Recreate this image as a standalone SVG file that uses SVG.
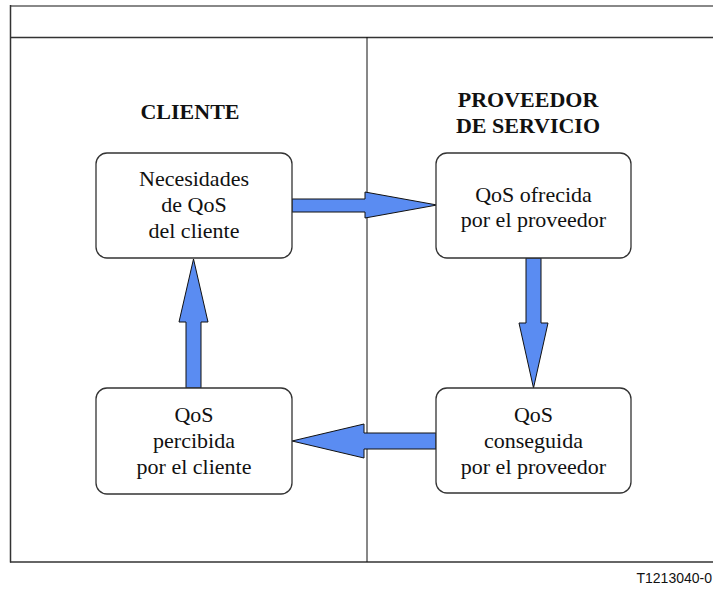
<svg xmlns="http://www.w3.org/2000/svg" width="713" height="590" viewBox="0 0 713 590">
<style>
.frame{fill:none;stroke:#333;stroke-width:1.5}
.box{fill:#fff;stroke:#333;stroke-width:1.3}
.lbl{font-size:22px;fill:#111;text-anchor:middle}
.hdr{font-size:22px;font-weight:bold;fill:#111;text-anchor:middle}
.arr{fill:#5a8cf2;stroke:#111;stroke-width:1;stroke-linejoin:miter}
</style>
<rect width="713" height="590" fill="#fff"/>
<g id="frame">
<line x1="10" y1="6" x2="713" y2="6" stroke="#888" stroke-width="2"/>
<line class="frame" x1="10.5" y1="5" x2="10.5" y2="562.5"/>
<line class="frame" x1="10" y1="37.5" x2="713" y2="37.5"/>
<line class="frame" x1="10" y1="562" x2="713" y2="562"/>
<line x1="367" y1="37" x2="367" y2="562" stroke="#111" stroke-width="1"/>
</g>
<g id="headers" font-family="Liberation Serif, serif">
<text class="hdr" x="190" y="119">CLIENTE</text>
<text class="hdr" x="528" y="107">PROVEEDOR</text>
<text class="hdr" x="528" y="133">DE SERVICIO</text>
</g>
<g id="connectors">
<polygon class="arr" points="292,199 365,199 365,192 437,205 365,218 365,212 292,212"/>
<polygon class="arr" points="526,258 541,258 541,323 548,323 533.5,388 519,323 526,323"/>
<polygon class="arr" points="436,433 364,433 364,424 292,441 364,458 364,449 436,449"/>
<polygon class="arr" points="186,388 186,322 179,322 193.5,259 208,322 201,322 201,388"/>
</g>
<g id="n1" font-family="Liberation Serif, serif">
<rect class="box" x="96" y="153" width="196" height="105" rx="11"/>
<text class="lbl" x="194" y="186">Necesidades</text>
<text class="lbl" x="194" y="212">de QoS</text>
<text class="lbl" x="194" y="238">del cliente</text>
</g>
<g id="n2" font-family="Liberation Serif, serif">
<rect class="box" x="436" y="153" width="195" height="105" rx="11"/>
<text class="lbl" x="533.5" y="202">QoS ofrecida</text>
<text class="lbl" x="533.5" y="227">por el proveedor</text>
</g>
<g id="n3" font-family="Liberation Serif, serif">
<rect class="box" x="436" y="388" width="195" height="105" rx="11"/>
<text class="lbl" x="533.5" y="422">QoS</text>
<text class="lbl" x="533.5" y="448">conseguida</text>
<text class="lbl" x="533.5" y="474">por el proveedor</text>
</g>
<g id="n4" font-family="Liberation Serif, serif">
<rect class="box" x="96" y="388" width="196" height="106" rx="11"/>
<text class="lbl" x="194" y="422">QoS</text>
<text class="lbl" x="194" y="448">percibida</text>
<text class="lbl" x="194" y="474">por el cliente</text>
</g>
<text x="712" y="583" font-family="Liberation Sans, Arial, sans-serif" font-size="14" fill="#111" text-anchor="end">T1213040-0</text>
</svg>
